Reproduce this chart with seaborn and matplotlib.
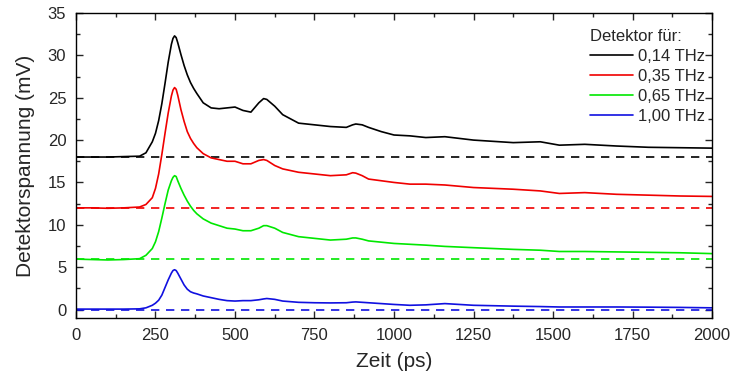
import matplotlib
matplotlib.use("Agg")
import matplotlib.pyplot as plt
from matplotlib.ticker import MultipleLocator
import seaborn as sns
import pandas as pd

# time axis (ps), shared by all detector traces
zeit = [0, 50, 100, 150, 200, 220, 240, 250, 260, 270, 280, 290, 300, 305, 310,
        315, 320, 330, 340, 350, 360, 370, 380, 400, 425, 450, 475, 500, 525,
        550, 575, 590, 600, 625, 650, 700, 750, 800, 850, 870, 880, 900, 920,
        960, 1000, 1050, 1100, 1160, 1250, 1375, 1460, 1520, 1600, 1700, 1800,
        1900, 2000]

u_014 = [18.0, 18.0, 18.0, 18.05, 18.1, 18.5, 19.8, 20.8, 22.3, 24.3, 26.7, 29.2,
         31.3, 32.0, 32.3, 32.1, 31.5, 30.1, 28.8, 27.7, 26.8, 26.1, 25.5, 24.4,
         23.8, 23.7, 23.8, 23.9, 23.5, 23.3, 24.4, 24.9, 24.8, 24.0, 23.0, 22.0,
         21.8, 21.6, 21.5, 21.8, 21.9, 21.8, 21.5, 21.0, 20.6, 20.5, 20.3, 20.4,
         20.0, 19.7, 19.8, 19.4, 19.5, 19.3, 19.15, 19.1, 19.05]
u_035 = [12.0, 12.0, 11.95, 12.0, 12.1, 12.4, 13.2, 14.3, 16.0, 18.3, 20.8, 23.2,
         25.2, 25.9, 26.2, 26.0, 25.3, 23.6, 22.2, 21.0, 20.2, 19.6, 19.1, 18.4,
         17.9, 17.7, 17.5, 17.5, 17.2, 17.2, 17.6, 17.7, 17.6, 17.0, 16.6, 16.2,
         16.0, 15.8, 15.9, 16.15, 16.1, 15.8, 15.4, 15.2, 15.0, 14.8, 14.8, 14.7,
         14.4, 14.2, 14.0, 13.7, 13.8, 13.6, 13.5, 13.4, 13.35]
u_065 = [5.95, 5.9, 5.85, 5.9, 6.0, 6.4, 7.2, 8.0, 9.2, 10.8, 12.5, 14.1, 15.2,
         15.6, 15.8, 15.7, 15.2, 14.3, 13.5, 12.8, 12.2, 11.7, 11.3, 10.7, 10.2,
         9.9, 9.6, 9.5, 9.3, 9.3, 9.6, 9.9, 9.9, 9.6, 9.1, 8.6, 8.4, 8.2, 8.3,
         8.45, 8.45, 8.3, 8.1, 7.95, 7.8, 7.7, 7.6, 7.45, 7.3, 7.1, 7.0, 6.85,
         6.85, 6.8, 6.75, 6.7, 6.6]
u_100 = [0.05, 0.05, 0.05, 0.05, 0.08, 0.2, 0.5, 0.75, 1.1, 1.7, 2.6, 3.5, 4.3,
         4.6, 4.7, 4.6, 4.3, 3.6, 2.9, 2.4, 2.1, 1.95, 1.85, 1.6, 1.4, 1.2, 1.05,
         1.0, 1.05, 1.05, 1.15, 1.25, 1.3, 1.2, 1.0, 0.85, 0.8, 0.78, 0.8, 0.88,
         0.9, 0.85, 0.8, 0.7, 0.6, 0.5, 0.55, 0.7, 0.5, 0.4, 0.35, 0.3, 0.3, 0.3,
         0.28, 0.25, 0.2]

labels = ["0,14 THz", "0,35 THz", "0,65 THz", "1,00 THz"]
baselines = [18, 12, 6, 0]
colors = ["black", "#f00000", "#00e800", "#1010e0"]

sns.set_style("ticks")
plt.rcParams["font.family"] = ["Liberation Sans", "DejaVu Sans"]

fig = plt.figure(figsize=(7.32, 3.77), dpi=100)
ax = fig.add_axes([0.1038, 0.1565, 0.8689, 0.809])

for vals, lab, base, col in zip([u_014, u_035, u_065, u_100], labels, baselines, colors):
    df = pd.DataFrame({"Zeit": zeit, "U": vals})
    sns.lineplot(data=df, x="Zeit", y="U", color=col, lw=1.2, label=lab, ax=ax)
    ax.axhline(base, color=col, lw=1.2, ls=(0, (5, 4)))

ax.set_xlim(0, 2000)
ax.set_ylim(-1, 35)
ax.xaxis.set_major_locator(MultipleLocator(250))
ax.xaxis.set_minor_locator(MultipleLocator(125))
ax.yaxis.set_major_locator(MultipleLocator(5))
ax.yaxis.set_minor_locator(MultipleLocator(2.5))
ax.tick_params(which="both", direction="in", top=True, right=True, width=1, labelsize=12)
ax.tick_params(which="major", length=5)
ax.tick_params(which="minor", length=3)
ax.tick_params(axis="x", pad=7)
ax.tick_params(axis="y", pad=7)
for s in ax.spines.values():
    s.set_linewidth(1)
    s.set_color("black")

ax.set_xlabel("Zeit (ps)", fontsize=15, labelpad=7)
ax.set_ylabel("Detektorspannung (mV)", fontsize=15, labelpad=9)

leg = ax.legend(title="Detektor für:", loc="upper right", bbox_to_anchor=(1.0, 0.97),
                frameon=False, borderaxespad=0, handlelength=2.6, handletextpad=0.3,
                labelspacing=0.3, fontsize=12, title_fontsize=12, alignment="left")

fig.savefig("out.png", dpi=100)
plt.close(fig)
